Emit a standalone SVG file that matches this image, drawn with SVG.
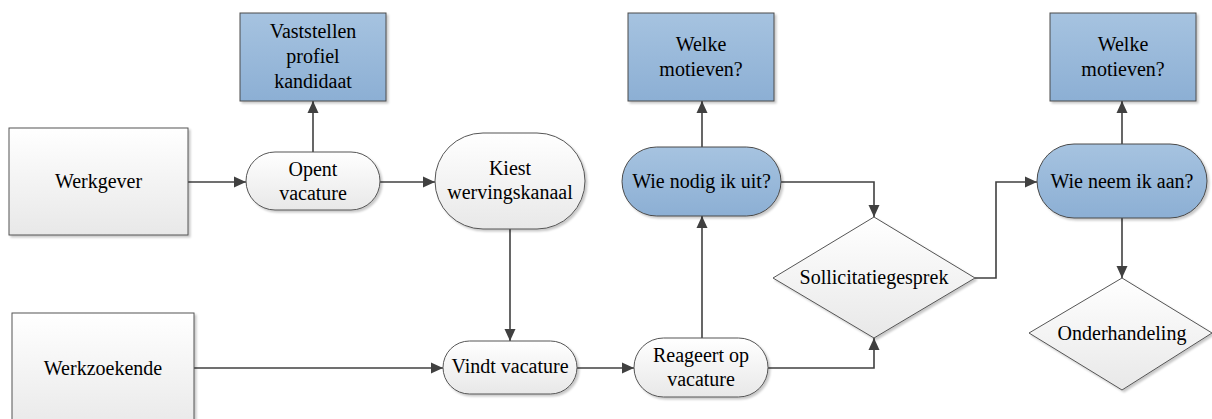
<svg xmlns="http://www.w3.org/2000/svg" width="1212" height="419" viewBox="0 0 1212 419">
<defs>
<linearGradient id="gGray" x1="0" y1="0" x2="0" y2="1">
<stop offset="0" stop-color="#ffffff"/>
<stop offset="1" stop-color="#e8e8e8"/>
</linearGradient>
<linearGradient id="gBlue" x1="0" y1="0" x2="0" y2="1">
<stop offset="0" stop-color="#a6c3e0"/>
<stop offset="1" stop-color="#8cafd4"/>
</linearGradient>
<filter id="sh" x="-10%" y="-10%" width="130%" height="130%">
<feDropShadow dx="2" dy="2" stdDeviation="1.2" flood-color="#000" flood-opacity="0.22"/>
</filter>
<marker id="arr" markerUnits="userSpaceOnUse" markerWidth="14" markerHeight="14" viewBox="0 0 14 14" refX="13" refY="7" orient="auto">
<path d="M1,1.5 L13,7 L1,12.5 Z" fill="#404040"/>
</marker>
<style>
.gray{fill:url(#gGray);stroke:#555;stroke-width:1;filter:url(#sh)}
.blue{fill:url(#gBlue);stroke:#4a4a4a;stroke-width:1;filter:url(#sh)}
.con{fill:none;stroke:#404040;stroke-width:1.6;marker-end:url(#arr)}
</style>
</defs>

<g id="connectors">
<path class="con" d="M188,182 L246,182"/>
<path class="con" d="M313,152 L313,101"/>
<path class="con" d="M380,182 L435,182"/>
<path class="con" d="M510,229 L510,341"/>
<path class="con" d="M194,368 L443,368"/>
<path class="con" d="M577,368 L634,368"/>
<path class="con" d="M702,338 L702,216"/>
<path class="con" d="M702,147 L702,101"/>
<path class="con" d="M781,182 L874,182 L874,217"/>
<path class="con" d="M768,368 L874,368 L874,338"/>
<path class="con" d="M975,278 L996,278 L996,182 L1037,182"/>
<path class="con" d="M1122,144 L1122,101"/>
<path class="con" d="M1122,218 L1122,278"/>
</g>

<g id="werkgever">
<rect class="gray" x="9" y="128" width="179" height="107"/>
<text x="98.5" y="188" font-family="Liberation Serif" font-size="20" text-anchor="middle" style="font-family:'Liberation Serif',serif">Werkgever</text>
</g>

<g id="werkzoekende">
<rect class="gray" x="12" y="313" width="182" height="120"/>
<text x="103" y="375" font-family="Liberation Serif" font-size="20" text-anchor="middle" style="font-family:'Liberation Serif',serif">Werkzoekende</text>
</g>

<g id="vaststellen">
<rect class="blue" x="240" y="13" width="146" height="88"/>
<text x="313" y="38" font-family="Liberation Serif" font-size="20" text-anchor="middle" style="font-family:'Liberation Serif',serif">Vaststellen</text>
<text x="313" y="63" font-family="Liberation Serif" font-size="20" text-anchor="middle" style="font-family:'Liberation Serif',serif">profiel</text>
<text x="313" y="88" font-family="Liberation Serif" font-size="20" text-anchor="middle" style="font-family:'Liberation Serif',serif">kandidaat</text>
</g>

<g id="opent">
<rect class="gray" x="246" y="152" width="134" height="58" rx="29" ry="29"/>
<text x="313" y="176" font-family="Liberation Serif" font-size="20" text-anchor="middle" style="font-family:'Liberation Serif',serif">Opent</text>
<text x="313" y="200" font-family="Liberation Serif" font-size="20" text-anchor="middle" style="font-family:'Liberation Serif',serif">vacature</text>
</g>

<g id="kiest">
<rect class="gray" x="435" y="133" width="150" height="96" rx="48" ry="48"/>
<text x="510" y="175" font-family="Liberation Serif" font-size="20" text-anchor="middle" style="font-family:'Liberation Serif',serif">Kiest</text>
<text x="510" y="199" font-family="Liberation Serif" font-size="20" text-anchor="middle" style="font-family:'Liberation Serif',serif">wervingskanaal</text>
</g>

<g id="vindt">
<rect class="gray" x="443" y="341" width="134" height="53" rx="26.5" ry="26.5"/>
<text x="510" y="373" font-family="Liberation Serif" font-size="20" text-anchor="middle" style="font-family:'Liberation Serif',serif">Vindt vacature</text>
</g>

<g id="reageert">
<rect class="gray" x="634" y="338" width="134" height="59" rx="29.5" ry="29.5"/>
<text x="701" y="362" font-family="Liberation Serif" font-size="20" text-anchor="middle" style="font-family:'Liberation Serif',serif">Reageert op</text>
<text x="701" y="386" font-family="Liberation Serif" font-size="20" text-anchor="middle" style="font-family:'Liberation Serif',serif">vacature</text>
</g>

<g id="welke1">
<rect class="blue" x="628" y="13" width="146" height="88"/>
<text x="701" y="51" font-family="Liberation Serif" font-size="20" text-anchor="middle" style="font-family:'Liberation Serif',serif">Welke</text>
<text x="701" y="76" font-family="Liberation Serif" font-size="20" text-anchor="middle" style="font-family:'Liberation Serif',serif">motieven?</text>
</g>

<g id="wienodig">
<rect class="blue" x="622" y="147" width="159" height="69" rx="34.5" ry="34.5"/>
<text x="701.5" y="188" font-family="Liberation Serif" font-size="20" text-anchor="middle" style="font-family:'Liberation Serif',serif">Wie nodig ik uit?</text>
</g>

<g id="sollicitatie">
<polygon class="gray" points="874,217 975,278 874,338 773,278"/>
<text x="874" y="284" font-family="Liberation Serif" font-size="20" text-anchor="middle" style="font-family:'Liberation Serif',serif">Sollicitatiegesprek</text>
</g>

<g id="wieneem">
<rect class="blue" x="1037" y="144" width="170" height="74" rx="37" ry="37"/>
<text x="1122" y="188" font-family="Liberation Serif" font-size="20" text-anchor="middle" style="font-family:'Liberation Serif',serif">Wie neem ik aan?</text>
</g>

<g id="welke2">
<rect class="blue" x="1050" y="13" width="146" height="88"/>
<text x="1123" y="51" font-family="Liberation Serif" font-size="20" text-anchor="middle" style="font-family:'Liberation Serif',serif">Welke</text>
<text x="1123" y="76" font-family="Liberation Serif" font-size="20" text-anchor="middle" style="font-family:'Liberation Serif',serif">motieven?</text>
</g>

<g id="onderhandeling">
<polygon class="gray" points="1122,278 1212,333 1122,390 1029,333"/>
<text x="1122" y="340" font-family="Liberation Serif" font-size="20" text-anchor="middle" style="font-family:'Liberation Serif',serif">Onderhandeling</text>
</g>
</svg>
